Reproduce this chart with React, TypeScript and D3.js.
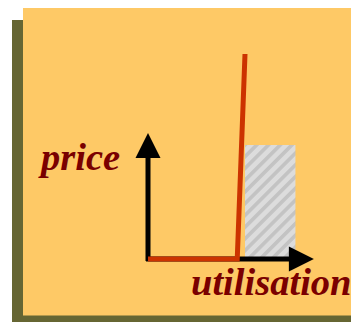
import React from "react";
import * as d3 from "d3";

// Conceptual price vs utilisation curve
const curveUtil = [0, 0.92, 1.0];
const curvePrice = [0, 0, 1.0];
// Hatched (scarcity) region
const hatchUtil = [1.0, 1.52];
const hatchPrice = [0, 0.556];
// Axis extents
const axisUtilEnd = 1.71;
const axisPriceEnd = 0.615;
const axisLabels = ["price", "utilisation"];

export default function App() {
  const W = 351, H = 322;
  const x = d3.scaleLinear().domain([0, 1]).range([148, 245]);
  const y = d3.scaleLinear().domain([0, 1]).range([259, 54]);

  const pts: [number, number][] = curveUtil.map((u, i) => [u, curvePrice[i]]);
  const line = d3.line<[number, number]>().x(d => x(d[0])).y(d => y(d[1]));

  const ax0 = x(0), ay0 = y(0);
  const xTip = x(axisUtilEnd), yTip = y(axisPriceEnd);
  const head = 25, half = 12.5;

  const font = "'Liberation Serif', 'Times New Roman', serif";

  return (
    <svg width={W} height={H} style={{ position: "absolute", left: 0, top: 0 }}>
      <defs>
        <pattern id="hatch" patternUnits="userSpaceOnUse" width={8.3} height={8.3} patternTransform="rotate(45)">
          <rect width={8.3} height={8.3} fill="#dcdcdc" />
          <rect width={3.6} height={8.3} fill="#c3c3c3" />
        </pattern>
      </defs>
      <rect x={12} y={20} width={360} height={320} fill="#666633" />
      <rect x={23} y={8} width={350} height={307.5} fill="#fec966" />
      <rect
        x={x(hatchUtil[0])}
        y={y(hatchPrice[1])}
        width={x(hatchUtil[1]) - x(hatchUtil[0])}
        height={y(hatchPrice[0]) - y(hatchPrice[1])}
        fill="url(#hatch)"
      />
      {/* y axis */}
      <line x1={ax0} y1={ay0 + 2} x2={ax0} y2={yTip + head - 1} stroke="#000" strokeWidth={5} />
      <path d={`M${ax0},${yTip} L${ax0 + half},${yTip + head} L${ax0 - half},${yTip + head} Z`} fill="#000" />
      {/* x axis */}
      <line x1={ax0 - 2} y1={ay0} x2={xTip - head + 1} y2={ay0} stroke="#000" strokeWidth={5} />
      <path d={`M${xTip},${ay0} L${xTip - head},${ay0 - half} L${xTip - head},${ay0 + half} Z`} fill="#000" />
      {/* curve */}
      <path d={line(pts) || ""} fill="none" stroke="#cc3300" strokeWidth={5} strokeLinejoin="miter" />
      <text x={41} y={170} fontFamily={font} fontWeight="bold" fontStyle="italic" fontSize={38.5} fill="#7a0000">
        {axisLabels[0]}
      </text>
      <text x={191} y={295} fontFamily={font} fontWeight="bold" fontStyle="italic" fontSize={38.5} fill="#7a0000">
        {axisLabels[1]}
      </text>
    </svg>
  );
}
